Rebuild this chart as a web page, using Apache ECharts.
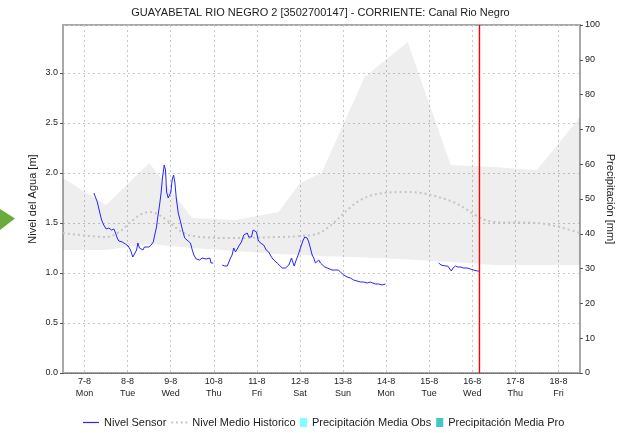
<!DOCTYPE html>
<html><head><meta charset="utf-8">
<script src="https://cdn.jsdelivr.net/npm/echarts@6/dist/echarts.min.js"></script>
<style>html,body{margin:0;padding:0;background:#fff}#c{width:641px;height:433px}</style>
</head><body><div id="c"></div>
<script>
const titleText = 'GUAYABETAL RIO NEGRO 2 [3502700147] - CORRIENTE: Canal Rio Negro';
const seriesNames = ['Nivel Sensor', 'Nivel Medio Historico', 'Precipitación Media Obs', 'Precipitación Media Pro'];
const dayNames = ['Sun', 'Mon', 'Tue', 'Wed', 'Thu', 'Fri', 'Sat'];
const nowMarker = '2017-08-16 04:00';
const levelRange = [0, 3.48];

// sensor readings: hours after 2017-08-07 00:00, level in m
const seg1Hours = [5.2,7.1,8.4,9.5,10.7,12.1,13.5,15.0,16.3,17.3,18.2,19.1,21.0,22.8,24.3,25.6,26.9,28.0,29.0,29.7,30.6,31.6,32.5,33.4,34.5,35.8,37.1,38.3,39.1,40.1,40.8,41.8,42.7,43.4,44.4,45.1,45.7,46.6,47.3,48.1,48.8,49.6,50.3,51.1,52.2,53.5,54.7,55.8,57.7,59.0,60.0,60.9,62.2,63.3,64.2,65.5,66.4,67.8,68.9,69.8,70.5,71.7];
const seg1Levels = [1.80,1.71,1.61,1.53,1.48,1.44,1.45,1.43,1.44,1.40,1.35,1.32,1.31,1.29,1.27,1.23,1.16,1.18,1.23,1.30,1.25,1.27,1.23,1.26,1.24,1.26,1.28,1.31,1.38,1.46,1.56,1.68,1.81,1.95,2.08,2.03,1.81,1.75,1.77,1.81,1.93,1.98,1.91,1.75,1.60,1.51,1.42,1.35,1.32,1.30,1.23,1.18,1.14,1.15,1.13,1.15,1.13,1.14,1.12,1.15,1.10,1.10];
const seg2Hours = [76.7,78.1,79.5,80.3,81.3,82.2,83.1,84.1,85.0,86.3,87.4,88.7,89.6,90.6,91.5,93.0,93.9,94.8,95.8,96.7,98.0,98.9,99.8,101.2,102.6,104.1,105.4,107.3,108.2,110.1,111.9,113.8,115.3,116.0,116.8,117.9,119.0,119.9,120.8,121.8,122.7,124.0,124.9,125.8,126.8,127.7,128.6,129.6,130.5,131.4,132.4,133.8,135.1,136.6,137.9,139.8,141.3,142.5,144.4,146.3,148.1,149.9,151.8,153.7,155.5,157.4,159.2,160.5,162.0,163.9,165.8,167.6];
const seg2Levels = [1.08,1.07,1.07,1.08,1.15,1.18,1.25,1.21,1.23,1.28,1.31,1.38,1.40,1.40,1.36,1.36,1.43,1.44,1.41,1.33,1.30,1.31,1.28,1.23,1.21,1.16,1.13,1.10,1.08,1.05,1.05,1.08,1.15,1.11,1.07,1.13,1.18,1.23,1.25,1.33,1.36,1.35,1.31,1.25,1.18,1.15,1.10,1.12,1.13,1.10,1.10,1.06,1.05,1.04,1.03,1.03,1.03,1.01,0.98,0.96,0.95,0.93,0.92,0.91,0.91,0.90,0.91,0.90,0.89,0.89,0.88,0.89];
const seg3Hours = [197.3,198.6,199.7,201.0,202.3,203.4,204.3,205.3,206.6,207.9,209.4,211.2,213.1,214.9,216.8,218.7,220.1];
const seg3Levels = [1.10,1.08,1.09,1.07,1.07,1.06,1.02,1.05,1.07,1.06,1.06,1.05,1.05,1.04,1.03,1.02,1.02];

// historical statistics
const histTimes = ['2017-08-06 12:00','2017-08-07 12:00','2017-08-08 12:00','2017-08-09 12:00','2017-08-10 12:00','2017-08-11 12:00','2017-08-12 00:00','2017-08-12 12:00','2017-08-13 12:00','2017-08-14 12:00','2017-08-15 12:00','2017-08-16 12:00','2017-08-17 12:00','2017-08-18 12:00'];
const histMax = [1.95,1.68,2.10,1.55,1.53,1.61,1.90,2.00,2.96,3.31,2.08,2.06,2.03,2.56];
const histMin = [1.23,1.23,1.29,1.25,1.22,1.19,1.18,1.17,1.155,1.135,1.11,1.08,1.08,1.08];
const histMean = [1.40,1.36,1.61,1.37,1.35,1.36,1.37,1.41,1.75,1.81,1.72,1.51,1.50,1.40];

const base = new Date(2017, 7, 7, 0, 0).getTime();
const H = 3600000;
function seg(hours, levels) { return hours.map((h, i) => [base + h * H, levels[i]]); }
function toTs(s) { const p = s.split(/[- :]/).map(Number); return new Date(p[0], p[1] - 1, p[2], p[3], p[4]).getTime(); }
const sensorData = [].concat(
  seg(seg1Hours, seg1Levels), [[base + 74 * H, null]],
  seg(seg2Hours, seg2Levels), [[base + 180 * H, null]],
  seg(seg3Hours, seg3Levels)
);
const minData = histTimes.map((t, i) => [toTs(t), histMin[i]]);
const rangeData = histTimes.map((t, i) => [toTs(t), +(histMax[i] - histMin[i]).toFixed(3)]);
const meanData = histTimes.map((t, i) => [toTs(t), histMean[i]]);
const nowTs = toTs(nowMarker);

const FONT = "'Liberation Sans', Arial, sans-serif";
const gridLine = { show: true, lineStyle: { color: '#c8c8c8', type: [2, 3], width: 1 } };
const legendText = { fontSize: 11, color: '#222', fontFamily: FONT };

const chart = echarts.init(document.getElementById('c'), null, { renderer: 'canvas' });
chart.setOption({
  animation: false,
  backgroundColor: '#fff',
  textStyle: { fontFamily: FONT },
  title: {
    text: titleText, left: 'center', top: 2,
    textStyle: { fontSize: 11, fontWeight: 'normal', color: '#222', fontFamily: FONT }
  },
  legend: [
    {
      data: [
        { name: seriesNames[0], icon: 'path://M0,0H16V1.2H0Z' },
        { name: seriesNames[1], icon: 'path://M0,0H2V2H0Z M5,0H7V2H5Z M10,0H12V2H10Z M15,0H17V2H15Z' }
      ],
      left: 83, top: 417, padding: 0, itemWidth: 16, itemHeight: 9, itemGap: 5,
      textStyle: legendText
    },
    {
      data: [{ name: seriesNames[2], icon: 'rect' }, { name: seriesNames[3], icon: 'rect' }],
      left: 300, top: 417, padding: 0, itemWidth: 7, itemHeight: 9, itemGap: 5,
      textStyle: legendText
    }
  ],
  grid: { left: 63, right: 61, top: 25, bottom: 60, show: true, borderColor: '#a8a8a8', borderWidth: 2, containLabel: false },
  xAxis: {
    type: 'time',
    min: new Date(2017, 7, 6, 12).getTime(),
    max: new Date(2017, 7, 18, 12).getTime(),
    minInterval: 86400000, maxInterval: 86400000,
    splitNumber: 12,
    axisLine: { show: true, lineStyle: { color: '#666', width: 1, type: [1, 1] } },
    axisTick: { show: false },
    axisLabel: {
      fontSize: 9, color: '#222', margin: 3, lineHeight: 12, showMinLabel: false, showMaxLabel: false,
      hideOverlap: false,
      formatter: function (v) {
        const d = new Date(v);
        if (d.getHours() !== 0 || d.getMinutes() !== 0) return '';
        return d.getDate() + '-' + (d.getMonth() + 1) + '\n' + dayNames[d.getDay()];
      }
    },
    splitLine: gridLine
  },
  yAxis: [
    {
      type: 'value', min: levelRange[0], max: levelRange[1], interval: 0.5, position: 'left',
      name: 'Nivel del Agua [m]', nameLocation: 'middle', nameGap: 25, nameMoveOverlap: false,
      nameTextStyle: { fontSize: 11, color: '#222', fontFamily: FONT },
      axisLine: { show: true, lineStyle: { color: '#a8a8a8', width: 2 } },
      axisTick: { show: true, length: 3, lineStyle: { color: '#555' } },
      axisLabel: {
        fontSize: 9, color: '#222', margin: 5, showMaxLabel: false,
        formatter: v => (Math.abs(v * 2 - Math.round(v * 2)) < 1e-6 ? v.toFixed(1) : '')
      },
      splitLine: gridLine
    },
    {
      type: 'value', min: 0, max: 100, interval: 10, position: 'right',
      name: 'Precipitación [mm]', nameLocation: 'middle', nameGap: 25, nameRotate: -90, nameMoveOverlap: false,
      nameTextStyle: { fontSize: 11, color: '#222', fontFamily: FONT },
      axisLine: { show: true, lineStyle: { color: '#a8a8a8', width: 2 } },
      axisTick: { show: true, length: 3, lineStyle: { color: '#555' } },
      axisLabel: { fontSize: 9, color: '#222', margin: 5 },
      splitLine: { show: false }
    }
  ],
  graphic: [{
    type: 'polygon', silent: true,
    shape: { points: [[0, 209], [15, 218.5], [0, 230]] },
    style: { fill: '#6aab3c' }
  }],
  series: [
    {
      name: 'histMin', type: 'line', stack: 'band', data: minData, symbol: 'none',
      lineStyle: { opacity: 0 }, silent: true, z: 1
    },
    {
      name: 'histRange', type: 'line', stack: 'band', data: rangeData, symbol: 'none',
      lineStyle: { opacity: 0 }, areaStyle: { color: 'rgba(0,0,0,0.065)', opacity: 1 }, silent: true, z: 1
    },
    {
      name: seriesNames[1], type: 'line', data: meanData, symbol: 'none', smooth: 0.35,
      itemStyle: { color: '#c4c4c4' },
      lineStyle: { color: '#c4c4c4', width: 2, type: [2, 3] }, z: 2
    },
    {
      name: seriesNames[0], type: 'line', data: sensorData, symbol: 'none', connectNulls: false,
      itemStyle: { color: '#2424ff' },
      lineStyle: { color: '#2424ff', width: 1 }, z: 3
    },
    {
      name: 'now', type: 'line', silent: true, z: 4, symbol: 'none',
      data: [[nowTs, levelRange[0]], [nowTs, levelRange[1]]],
      color: '#ff0000',
      itemStyle: { color: '#ff0000' },
      lineStyle: { color: '#ff0000', width: 1.4, type: 'solid' }
    },
    { name: seriesNames[2], type: 'line', yAxisIndex: 1, data: [], symbol: 'none', itemStyle: { color: '#80ffff' } },
    { name: seriesNames[3], type: 'line', yAxisIndex: 1, data: [], symbol: 'none', itemStyle: { color: '#40c8c8' } }
  ]
});
</script>
</body></html>
